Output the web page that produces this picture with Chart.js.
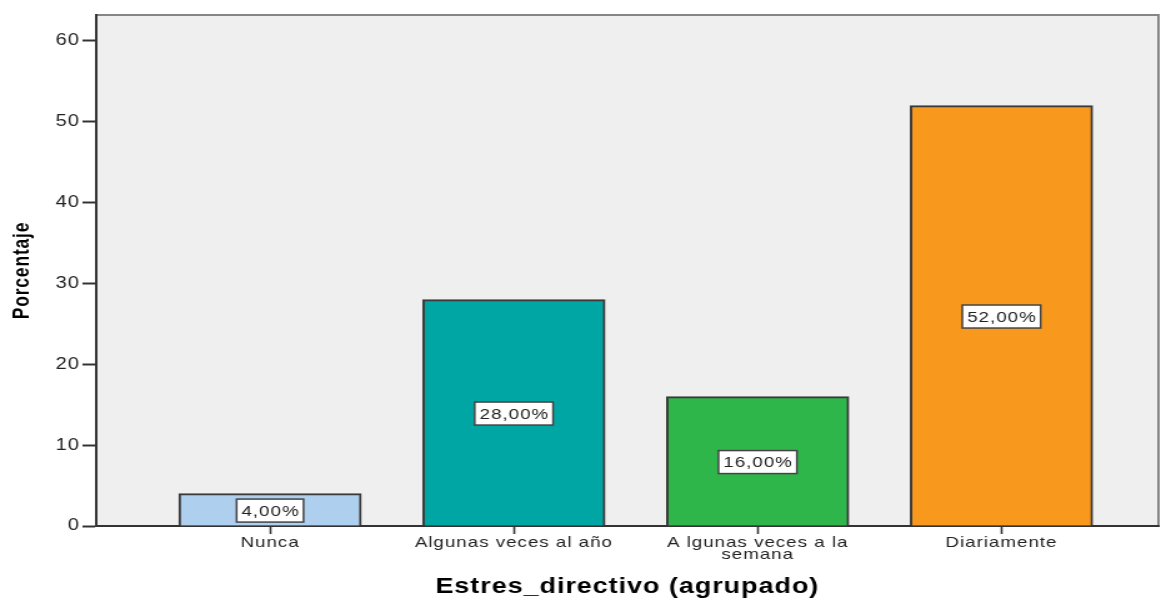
<!DOCTYPE html>
<html>
<head>
<meta charset="utf-8">
<script src="https://cdn.jsdelivr.net/npm/chart.js@4/dist/chart.umd.min.js"></script>
<style>
  html, body { margin: 0; padding: 0; background: #fff; overflow: hidden; }
  /* the chart is laid out narrow and stretched sideways, like the exported graphic */
  #wrap { width: 933px; height: 598px; transform: scaleX(1.2497); transform-origin: 0 0; }
</style>
</head>
<body>
<div id="wrap"><canvas id="chart" width="933" height="598"></canvas></div>
<script>
const categories = ['Nunca', 'Algunas veces al año', ['A lgunas veces a la', 'semana'], 'Diariamente'];
const percentages = [4, 28, 16, 52];
const barColors = ['#aecfee', '#00a6a3', '#2eb64b', '#f8981d'];
const yTicks = [0, 10, 20, 30, 40, 50, 60];

Chart.defaults.font.family = '"Liberation Sans", Arial, sans-serif';

// slightly spaced lettering for every label on the canvas
const spacedText = {
	id: 'spacedText',
	beforeUpdate(chart) { chart.ctx.letterSpacing = '0.8px'; },
	beforeDraw(chart) { chart.ctx.letterSpacing = '0.8px'; }
};

// grey plot box with a lighter frame on top and right
const plotBox = {
	id: 'plotBox',
	beforeDraw(chart) {
		const {ctx, chartArea: a} = chart;
		ctx.save();
		ctx.fillStyle = '#efefef';
		ctx.fillRect(a.left, a.top, a.right - a.left, a.bottom - a.top);
		ctx.strokeStyle = '#858585';
		ctx.lineWidth = 2;
		ctx.beginPath();
		ctx.moveTo(a.left, a.top);
		ctx.lineTo(a.right, a.top);
		ctx.lineTo(a.right, a.bottom);
		ctx.stroke();
		ctx.restore();
	}
};

// boxed percentage in the middle of each bar
const valueBoxes = {
	id: 'valueBoxes',
	afterDatasetsDraw(chart) {
		const ctx = chart.ctx;
		const meta = chart.getDatasetMeta(0);
		ctx.save();
		ctx.font = '15px "Liberation Sans", Arial, sans-serif';
		ctx.textAlign = 'center';
		ctx.textBaseline = 'middle';
		meta.data.forEach((bar, i) => {
			const text = percentages[i].toFixed(2).replace('.', ',') + '%';
			const cy = (bar.y + bar.base) / 2 + 1;
			const w = ctx.measureText(text).width + 7;
			const h = 23;
			ctx.fillStyle = '#ffffff';
			ctx.fillRect(bar.x - w / 2, cy - h / 2, w, h);
			ctx.strokeStyle = '#444';
			ctx.lineWidth = 1.5;
			ctx.strokeRect(bar.x - w / 2, cy - h / 2, w, h);
			ctx.fillStyle = '#222';
			ctx.fillText(text, bar.x + 0.4, cy + 1);
		});
		ctx.restore();
	}
};

new Chart(document.getElementById('chart'), {
	type: 'bar',
	data: {
		datasets: [{
			data: percentages.map((v, i) => ({x: i, y: v})),
			backgroundColor: barColors,
			borderColor: '#3a3a3a',
			borderWidth: 2,
			barThickness: 146,
		}]
	},
	options: {
		responsive: false,
		animation: false,
		layout: {padding: {top: 15, right: 6, left: 0, bottom: 0}},
		plugins: {
			legend: {display: false},
			tooltip: {enabled: false},
		},
		scales: {
			x: {
				type: 'linear',
				offset: false,
				min: -0.713,
				max: 3.644,
				afterBuildTicks: scale => {
					scale.ticks = categories.map((c, i) => ({value: i}));
				},
				afterFit: scale => { scale.height = 72; },
				border: {color: '#333', width: 2},
				grid: {offset: false, drawOnChartArea: false, drawTicks: true, tickLength: 8, tickColor: '#333', tickWidth: 1.6},
				ticks: {
					autoSkip: false,
					maxRotation: 0,
					padding: 2,
					color: '#222',
					font: {size: 15, lineHeight: 0.85},
					callback: value => categories[value],
				},
				title: {
					display: true,
					text: 'Estres_directivo (agrupado)',
					color: '#000',
					font: {size: 21.5, weight: 'bold', lineHeight: 1},
					padding: {top: 0, bottom: 0},
				}
			},
			y: {
				min: 0,
				max: 63.2,
				afterBuildTicks: scale => {
					scale.ticks = yTicks.map(v => ({value: v}));
				},
				afterFit: scale => { scale.width = 77; },
				border: {color: '#333', width: 2},
				grid: {drawOnChartArea: false, drawTicks: true, tickLength: 11, tickColor: '#333', tickWidth: 2},
				ticks: {
					padding: 2,
					color: '#222',
					font: {size: 16},
				},
				title: {
					display: true,
					text: 'Porcentaje',
					color: '#000',
					font: {size: 17.5, weight: 'bold'},
					padding: {top: 8, bottom: 0},
				}
			}
		}
	},
	plugins: [spacedText, plotBox, valueBoxes]
});
</script>
</body>
</html>
